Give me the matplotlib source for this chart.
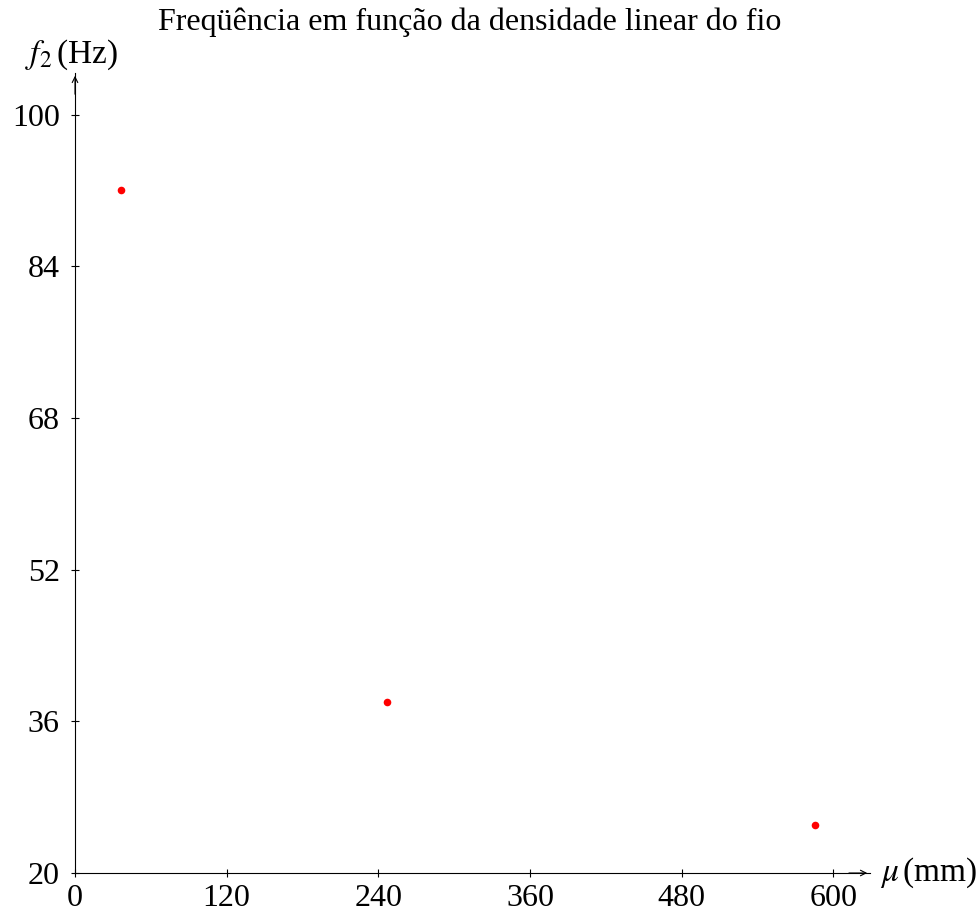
import matplotlib.pyplot as plt

# Daten
mu = [36.4, 247.0, 585.8]
f2 = [92.1, 38.0, 25.1]
xticks = [0, 120, 240, 360, 480, 600]
yticks = [20, 36, 52, 68, 84, 100]

plt.rcParams['font.family'] = ['Liberation Serif', 'DejaVu Serif']
plt.rcParams['mathtext.fontset'] = 'stix'
fs = 23

fig = plt.figure(figsize=(9.8, 9.14), dpi=100)
ax = fig.add_axes([75 / 980, 41 / 914, 795 / 980, 800 / 914])

ax.scatter(mu, f2, s=30, color='red', zorder=3, linewidths=0)

ax.set_xlim(0, 629)
ax.set_ylim(20, 104.4)
ax.set_xticks(xticks)
ax.set_yticks(yticks)
ax.tick_params(direction='inout', length=6, width=0.8, labelsize=fs)
ax.tick_params(axis='x', pad=5)
ax.tick_params(axis='y', pad=8)
for s in ['top', 'right']:
    ax.spines[s].set_visible(False)
for s in ['left', 'bottom']:
    ax.spines[s].set_linewidth(0.8)

# Pfeile an den Achsenenden
ax.annotate('', xy=(1, 0), xytext=(0.97, 0), xycoords='axes fraction',
            arrowprops=dict(arrowstyle='->', lw=0.8, color='black'))
ax.annotate('', xy=(0, 1), xytext=(0, 0.97), xycoords='axes fraction',
            arrowprops=dict(arrowstyle='->', lw=0.8, color='black'))

fig.text(880 / 980, 1 - 873 / 914, r'$\mu\,$(mm)', fontsize=fs + 1, va='center', ha='left')
fig.text(72 / 980, 1 - 55 / 914, r'$f_2\,$(Hz)', fontsize=fs + 1, va='center', ha='center')
fig.text(470 / 980, 1 - 22 / 914, 'Freqüência em função da densidade linear do fio',
         fontsize=fs, va='center', ha='center')

fig.savefig('out.png', dpi=100)
